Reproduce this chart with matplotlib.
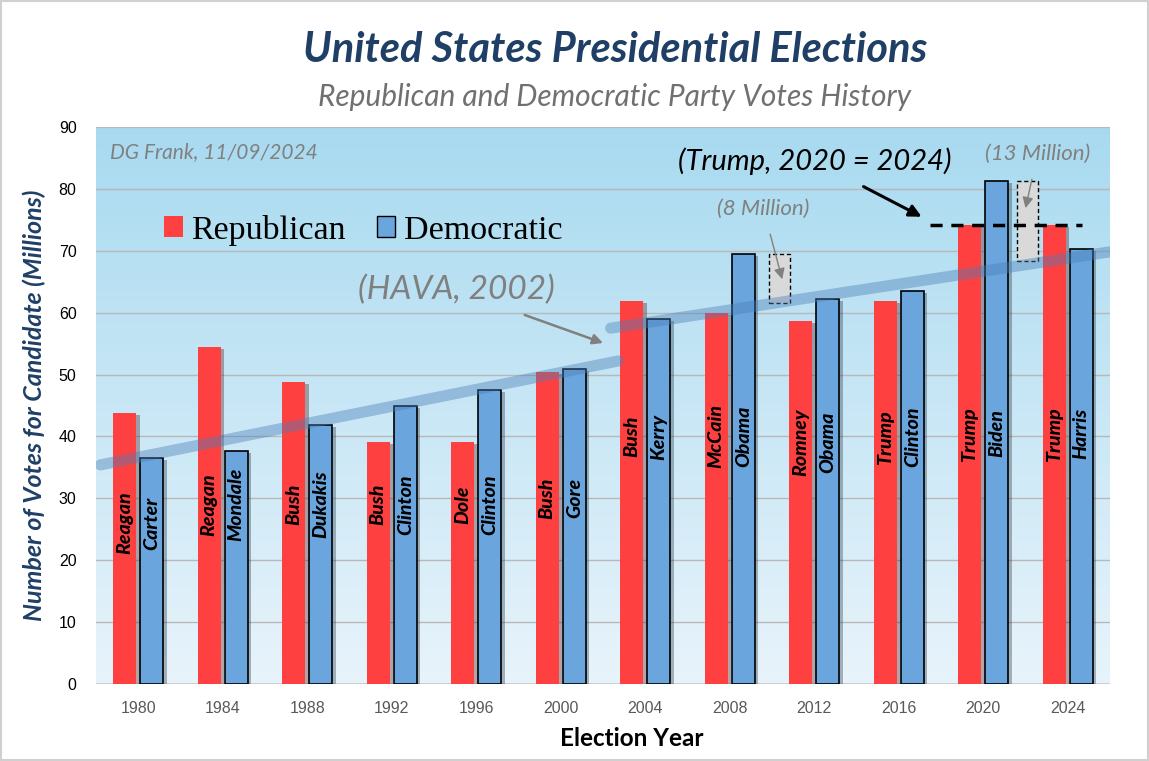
import numpy as np
import matplotlib
matplotlib.use("Agg")
import matplotlib.pyplot as plt
import matplotlib.patches as mpatches
import matplotlib.patheffects as pe

#===[ DATA ]===================================================================#
years = ["1980", "1984", "1988", "1992", "1996", "2000",
         "2004", "2008", "2012", "2016", "2020", "2024"]
rep_votes = [43.8, 54.5, 48.8, 39.1, 39.1, 50.4, 61.9, 59.9, 58.6, 61.9, 74.2, 74.2]
dem_votes = [36.5, 37.6, 41.8, 44.9, 47.5, 50.9, 59.0, 69.5, 62.2, 63.5, 81.3, 70.3]
rep_names = ["Reagan", "Reagan", "Bush", "Bush", "Dole", "Bush",
             "Bush", "McCain", "Romney", "Trump", "Trump", "Trump"]
dem_names = ["Carter", "Mondale", "Dukakis", "Clinton", "Clinton", "Gore",
             "Kerry", "Obama", "Obama", "Clinton", "Biden", "Harris"]
# height where the candidate names are centred
name_y = [26, 29, 29, 29, 29, 30, 40, 40, 39, 40, 40.5, 40.5]

# trend segments (before / after HAVA 2002)
trend1_x = [-0.45, 5.68]
trend1_y = [35.4, 52.2]
trend2_x = [5.59, 11.58]
trend2_y = [57.5, 70.0]

# gaps shown as dashed grey boxes
gap_pos = [7.59, 10.52]
gap_low = [61.5, 68.3]
gap_high = [69.5, 81.3]
gap_text = ["(8 Million)", "(13 Million)"]

RED = "#ff4040"
BLUE = "#6aa5dd"
NAVY = "#1f3f66"
GREY = "#808080"

#===[ FIGURE ]=================================================================#
fig = plt.figure(figsize=(11.49, 7.61), dpi=100)
fig.patch.set_facecolor("white")
fig.patches.append(mpatches.Rectangle((0.001, 0.001), 0.998, 0.998, transform=fig.transFigure,
                                      fill=False, edgecolor="#d0d0d0", lw=1.5))
ax = fig.add_axes([0.0836, 0.1012, 0.8825, 0.7319])

# background gradient
grad = np.linspace(0, 1, 256).reshape(-1, 1)
top = np.array([0.66, 0.855, 0.94])
bot = np.array([0.91, 0.955, 0.985])
img = top[None, None, :] * (1 - grad[:, :, None]) + bot[None, None, :] * grad[:, :, None]
ax.imshow(img, extent=[0, 1, 0, 1], transform=ax.transAxes, aspect="auto", zorder=0)

x = np.arange(len(years))
w = 0.27
off = 0.16
shadow = [pe.SimplePatchShadow(offset=(2.5, -1.5), alpha=0.35), pe.Normal()]
rb = ax.bar(x - off, rep_votes, w, color=RED, zorder=3)
db = ax.bar(x + off, dem_votes, w, color=BLUE, edgecolor="black", lw=1.2, zorder=3)
for b in list(rb) + list(db):
    b.set_path_effects(shadow)

name_font = dict(family="Lato", weight="black", style="italic", size=14,
                 rotation=90, ha="center", va="center", zorder=5)
for i in range(len(years)):
    ax.text(x[i] - off, name_y[i], rep_names[i], **name_font)
    ax.text(x[i] + off, name_y[i], dem_names[i], **name_font)

# trend lines
ax.plot(trend1_x, trend1_y, color="#4a7fb8", alpha=0.42, lw=8, solid_capstyle="round", zorder=4)
ax.plot(trend2_x, trend2_y, color="#4a7fb8", alpha=0.42, lw=8, solid_capstyle="round", zorder=4)

# gap boxes
for gp, lo, hi in zip(gap_pos, gap_low, gap_high):
    ax.add_patch(mpatches.Rectangle((gp - 0.125, lo), 0.25, hi - lo, facecolor="#d9d9d9",
                                    edgecolor="black", lw=1, ls=(0, (3, 2)), zorder=3))

ax.annotate(gap_text[0], xy=(gap_pos[0] + 0.03, 65.4), xytext=(7.4, 76.7),
            ha="center", va="center", fontsize=16, color=GREY, style="italic", family="Lato",
            arrowprops=dict(arrowstyle="-|>", color=GREY, lw=1, shrinkA=9, shrinkB=0), zorder=6)
ax.annotate(gap_text[1], xy=(gap_pos[1] - 0.02, 76.9), xytext=(10.64, 85.6),
            ha="center", va="center", fontsize=16, color=GREY, style="italic", family="Lato",
            arrowprops=dict(arrowstyle="-|>", color=GREY, lw=1, shrinkA=9, shrinkB=0), zorder=6)

# Trump equal line
ax.plot([9.37, 11.17], [rep_votes[10], rep_votes[11]], color="black", lw=2.5,
        ls=(0, (3.5, 2.5)), zorder=6)
ax.annotate("(Trump, 2020 = 2024)", xy=(9.27, 75.5), xytext=(8.0, 84.5),
            ha="center", va="center", fontsize=21, color="black", style="italic", family="Lato",
            arrowprops=dict(arrowstyle="-|>", color="black", lw=2.2, shrinkA=14, shrinkB=0,
                            mutation_scale=18), zorder=6)

ax.annotate("(HAVA, 2002)", xy=(5.5, 55.1), xytext=(3.76, 63.6),
            ha="center", va="center", fontsize=24, color=GREY, style="italic", family="Lato",
            arrowprops=dict(arrowstyle="-|>", color=GREY, lw=1.8, shrinkA=14, shrinkB=0,
                            mutation_scale=15), zorder=6)

ax.text(0.014, 0.955, "DG Frank, 11/09/2024", transform=ax.transAxes, fontsize=15,
        color=GREY, style="italic", family="Lato", va="center", ha="left", zorder=6)

# axes setup
ax.set_xlim(-0.5, 11.5)
ax.set_ylim(0, 90)
ax.set_yticks(range(0, 91, 10))
ax.set_xticks(x)
ax.set_xticklabels(years)
ax.tick_params(axis="both", length=0, labelsize=11.5)
ax.tick_params(axis="x", colors="#595959", pad=12)
ax.tick_params(axis="y", pad=14)
for lab in ax.get_xticklabels() + ax.get_yticklabels():
    lab.set_family("Liberation Sans")
ax.grid(axis="y", color="#b8b8b8", lw=1, zorder=1)
ax.set_axisbelow(True)
for s in ax.spines.values():
    s.set_visible(False)
ax.axhline(0, color="#c8c8c8", lw=1.2, zorder=2)

ax.set_xlabel("Election Year", fontsize=17.5, weight="bold", family="Lato")
ax.xaxis.set_label_coords(0.5285, -0.078)
ax.set_ylabel("Number of Votes for Candidate (Millions)", fontsize=18, weight="bold",
              style="italic", family="Lato", color=NAVY)
ax.yaxis.set_label_coords(-0.049, 0.5)

handles = [mpatches.Patch(facecolor=RED, label="Republican"),
           mpatches.Patch(facecolor=BLUE, edgecolor="black", label="Democratic")]
leg = ax.legend(handles=handles, loc="center left", bbox_to_anchor=(0.037, 0.815), ncol=2,
                frameon=False, prop=dict(family="Liberation Serif", size=24.5),
                handlelength=0.55, handleheight=0.55, handletextpad=0.25, columnspacing=0.9)
leg.set_zorder(7)

fig.text(0.535, 0.934, "United States Presidential Elections", ha="center", va="center",
         fontsize=30, weight="bold", style="italic", family="Lato", color=NAVY)
fig.text(0.535, 0.873, "Republican and Democratic Party Votes History", ha="center", va="center",
         fontsize=21.5, style="italic", family="Lato", color="#707070")

fig.savefig("out.png", dpi=100)
